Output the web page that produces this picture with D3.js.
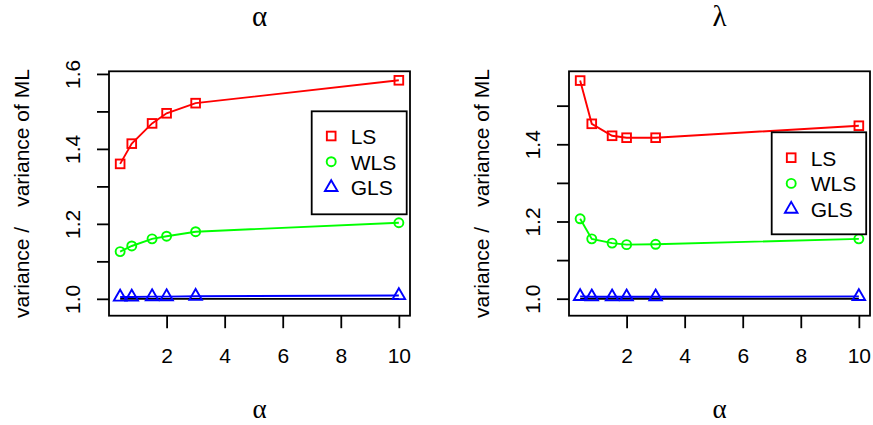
<!DOCTYPE html>
<html>
<head>
<meta charset="utf-8">
<script src="https://cdn.jsdelivr.net/npm/d3@7"></script>
<style>
  html, body { margin: 0; padding: 0; background: #fff; }
  svg { display: block; }
</style>
</head>
<body>
<svg id="chart" width="873" height="425"></svg>
<script>
// ---------------- data ----------------
const xValues = [0.4, 0.8, 1.5, 2, 3, 10];
const seriesNames = ["LS", "WLS", "GLS"];
const seriesColors = ["#FF0000", "#00FF00", "#0000FF"];

const lsAlpha  = [1.360, 1.414, 1.468, 1.495, 1.522, 1.583];
const wlsAlpha = [1.126, 1.141, 1.160, 1.167, 1.179, 1.203];
const glsAlpha = [1.005, 1.005, 1.006, 1.006, 1.007, 1.009];

const lsLambda  = [1.565, 1.453, 1.422, 1.417, 1.417, 1.448];
const wlsLambda = [1.207, 1.155, 1.144, 1.140, 1.141, 1.155];
const glsLambda = [1.006, 1.005, 1.005, 1.005, 1.005, 1.006];

const mlLevel = 1.0;

const xTicks = [2, 4, 6, 8, 10];
const yTicksAlpha = [1.0, 1.1, 1.2, 1.3, 1.4, 1.5, 1.6];
const yLabelsAlpha = [1.0, 1.2, 1.4, 1.6];
const yTicksLambda = [1.0, 1.1, 1.2, 1.3, 1.4, 1.5];
const yLabelsLambda = [1.0, 1.2, 1.4];
const yLimAlpha = [0.955, 1.607];
const yLimLambda = [0.956, 1.589];

const titles = ["\u03B1", "\u03BB"];
const xAxisLabel = "\u03B1";
const yAxisLabelParts = ["variance /", "variance of ML"];

// ---------------- layout ----------------
const svg = d3.select("#chart");
const FS = 21;
const SANS = "'Liberation Sans', Arial, Helvetica, sans-serif";
const SERIF = "'Liberation Serif', 'Times New Roman', serif";
const panels = [
  { left: 109, right: 410, series: [lsAlpha, wlsAlpha, glsAlpha], yTicks: yTicksAlpha, yLabels: yLabelsAlpha, yLim: yLimAlpha, title: titles[0],
    legend: { x: 311.7, y: 111.3, w: 95, h: 103, row0: 24.7 } },
  { left: 569, right: 870, series: [lsLambda, wlsLambda, glsLambda], yTicks: yTicksLambda, yLabels: yLabelsLambda, yLim: yLimLambda, title: titles[1],
    legend: { x: 771.7, y: 132.3, w: 94.5, h: 102, row0: 25.4 } }
];
const plotTop = 71.3, plotBottom = 315.7;
const R = 4.9;
const MSW = 1.9;

function drawMarker(g, type, cx, cy, color) {
  if (type === 0) {
    const h = R * 0.886;
    g.append("rect").attr("x", cx - h).attr("y", cy - h).attr("width", 2 * h).attr("height", 2 * h)
      .attr("fill", "none").attr("stroke", color).attr("stroke-width", MSW);
  } else if (type === 1) {
    g.append("circle").attr("cx", cx).attr("cy", cy).attr("r", R * 0.92)
      .attr("fill", "none").attr("stroke", color).attr("stroke-width", MSW);
  } else {
    const r = 1.5551 * R * 0.95, xc = 1.3468 * R * 0.95, yc = 0.7776 * R * 0.95;
    const pts = [[cx, cy - r], [cx + xc, cy + yc], [cx - xc, cy + yc]];
    g.append("path").attr("d", "M" + pts.map(p => p.join(",")).join("L") + "Z")
      .attr("fill", "none").attr("stroke", color).attr("stroke-width", MSW).attr("stroke-linejoin", "miter");
  }
}

panels.forEach((p) => {
  const xExt = d3.extent(xValues);
  const pad = (xExt[1] - xExt[0]) * 0.04;
  const x = d3.scaleLinear().domain([xExt[0] - pad, xExt[1] + pad]).range([p.left, p.right]);
  const y = d3.scaleLinear().domain(p.yLim).range([plotBottom, plotTop]);
  const g = svg.append("g");

  // reference line at ML level
  g.append("path")
    .attr("d", d3.line().x(d => x(d)).y(() => y(mlLevel))(xValues))
    .attr("fill", "none").attr("stroke", "#000").attr("stroke-width", 1.9);

  // series
  p.series.forEach((vals, si) => {
    const color = seriesColors[si];
    g.append("path")
      .attr("d", d3.line().x((d, i) => x(xValues[i])).y(d => y(d))(vals))
      .attr("fill", "none").attr("stroke", color).attr("stroke-width", 1.9);
    vals.forEach((v, i) => drawMarker(g, si, x(xValues[i]), y(v), color));
  });

  // box
  g.append("rect").attr("x", p.left).attr("y", plotTop).attr("width", p.right - p.left).attr("height", plotBottom - plotTop)
    .attr("fill", "none").attr("stroke", "#000").attr("stroke-width", 1.8);

  // x axis
  const xa = g.append("g").attr("transform", `translate(0,${plotBottom})`)
    .call(d3.axisBottom(x).tickValues(xTicks).tickSize(12.5).tickPadding(0).tickFormat(d3.format("d")));
  xa.select(".domain").remove();
  xa.selectAll(".tick line").attr("stroke", "#000").attr("stroke-width", 1.8);
  xa.selectAll(".tick text").attr("y", 47).attr("dy", 0).attr("fill", "#000")
    .style("font-size", FS + "px").style("font-family", SANS);

  // y axis
  const ya = g.append("g").attr("transform", `translate(${p.left},0)`)
    .call(d3.axisLeft(y).tickValues(p.yTicks).tickSize(12).tickPadding(0)
      .tickFormat(d => p.yLabels.some(l => Math.abs(l - d) < 1e-9) ? d3.format(".1f")(d) : ""));
  ya.select(".domain").remove();
  ya.selectAll(".tick line").attr("stroke", "#000").attr("stroke-width", 1.8);
  ya.selectAll(".tick text").attr("transform", "rotate(-90)").attr("x", 0).attr("y", -29).attr("dy", 0)
    .attr("text-anchor", "middle").attr("fill", "#000")
    .style("font-size", FS + "px").style("font-family", SANS);

  const cx = (p.left + p.right) / 2;
  // title
  g.append("text").attr("x", cx).attr("y", 26).attr("text-anchor", "middle")
    .style("font-family", SERIF).style("font-size", "29px").text(p.title);
  // x label
  g.append("text").attr("x", cx).attr("y", 417.5).attr("text-anchor", "middle")
    .style("font-family", SERIF).style("font-size", "27px").text(xAxisLabel);
  // y label
  const yl = g.append("text").attr("transform", `translate(${p.left - 80},${(plotTop + plotBottom) / 2}) rotate(-90)`)
    .attr("text-anchor", "middle").attr("fill", "#000")
    .style("font-size", FS + "px").style("font-family", SANS);
  yl.append("tspan").text(yAxisLabelParts[0]);
  yl.append("tspan").attr("dx", 20).text(yAxisLabelParts[1]);

  // legend
  const L = p.legend;
  const lg = g.append("g");
  lg.append("rect").attr("x", L.x).attr("y", L.y).attr("width", L.w).attr("height", L.h)
    .attr("fill", "#fff").attr("stroke", "#000").attr("stroke-width", 1.8);
  seriesNames.forEach((name, si) => {
    const ry = L.y + L.row0 + si * 25.7;
    drawMarker(lg, si, L.x + 19.5, ry, seriesColors[si]);
    lg.append("text").attr("x", L.x + 39).attr("y", ry + 8).attr("fill", "#000")
      .style("font-size", FS + "px").style("font-family", SANS).text(name);
  });
});
</script>
</body>
</html>
